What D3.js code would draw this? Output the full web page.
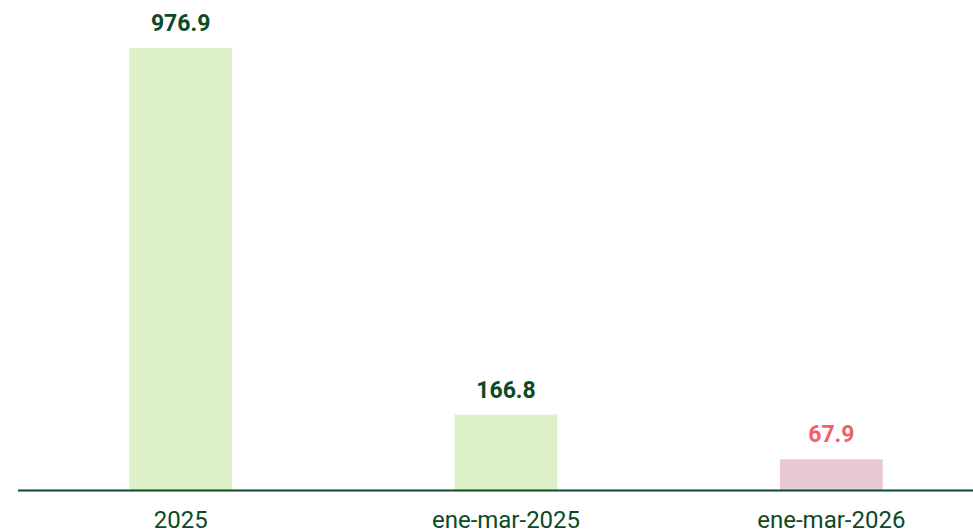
<!DOCTYPE html>
<html>
<head>
<meta charset="utf-8">
<script src="https://cdn.jsdelivr.net/npm/d3@7"></script>
<style>
  body { margin: 0; background: #fff; }
  text { font-family: Roboto, "Noto Sans", sans-serif; }
</style>
</head>
<body>
<div id="chart"></div>
<script>
// chart data
var categories = ["2025", "ene-mar-2025", "ene-mar-2026"];
var values = [976.9, 166.8, 67.9];
var labels = ["976.9", "166.8", "67.9"];
var fills = ["#ddf1c9", "#ddf1c9", "#e8c8d5"];
var labelColors = ["#0b4a25", "#0b4a25", "#f0626a"];

var width = 973, height = 532;
var baseY = 490;

var svg = d3.select("#chart")
  .append("svg")
  .attr("width", width).attr("height", height);

// band range runs a bit past the right edge, like the original
var x = d3.scaleBand()
  .domain(categories)
  .range([18, 994])
  .paddingInner(0.684)
  .paddingOuter(0.342);

var y = d3.scaleLinear()
  .domain([0, d3.max(values)])
  .range([baseY, 48]);

var rows = categories.map(function(c, i) {
  return { cat: c, val: values[i], label: labels[i], fill: fills[i], color: labelColors[i] };
});

// bars
svg.selectAll("rect.bar")
  .data(rows)
  .enter()
  .append("rect")
  .attr("class", "bar")
  .attr("x", function(d) { return x(d.cat); })
  .attr("y", function(d) { return y(d.val); })
  .attr("width", x.bandwidth())
  .attr("height", function(d) { return baseY - y(d.val); })
  .attr("fill", function(d) { return d.fill; });

// value labels
svg.selectAll("text.val")
  .data(rows)
  .enter()
  .append("text")
  .attr("class", "val")
  .attr("x", function(d) { return x(d.cat) + x.bandwidth() / 2; })
  .attr("y", function(d) { return y(d.val) - 17; })
  .attr("text-anchor", "middle")
  .attr("font-size", 23)
  .attr("font-weight", "bold")
  .attr("fill", function(d) { return d.color; })
  .text(function(d) { return d.label; });

// x axis
var axis = svg.append("g")
  .attr("transform", "translate(0," + baseY + ")")
  .call(d3.axisBottom(x).tickSize(0).tickPadding(21));

axis.select(".domain").remove();
axis.append("line")
  .attr("x1", 18).attr("x2", width)
  .attr("y1", 0.5).attr("y2", 0.5)
  .attr("stroke", "#0b4a25")
  .attr("stroke-width", 2);

axis.selectAll(".tick text")
  .attr("font-family", "Roboto, 'Noto Sans', sans-serif")
  .attr("font-size", 24)
  .attr("fill", "#0b4a25");
</script>
</body>
</html>
